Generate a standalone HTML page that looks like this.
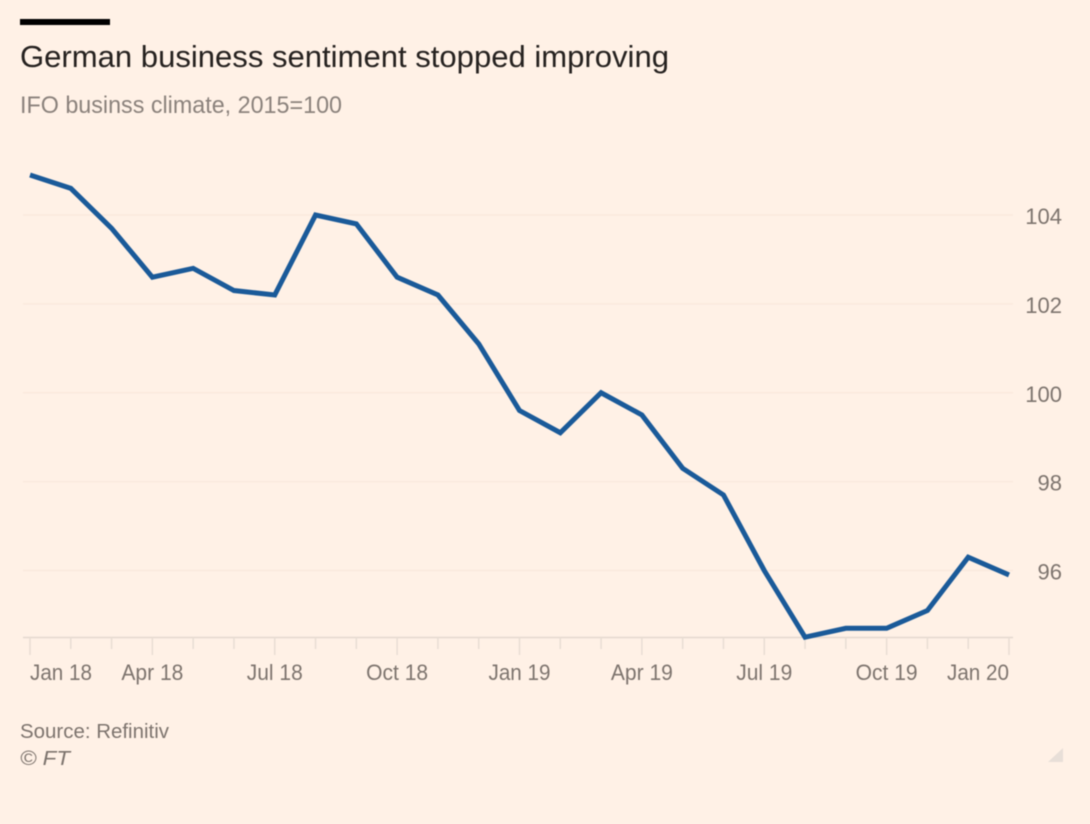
<!DOCTYPE html>
<html lang="en">
<head>
<meta charset="utf-8">
<title>German business sentiment stopped improving</title>
<style>
html,body{margin:0;padding:0;background:#fff1e6;width:1090px;height:824px;overflow:hidden}
svg{display:block;font-family:"Liberation Sans",sans-serif;filter:blur(0.4px)}
</style>
</head>
<body>
<svg id="chart" width="1090" height="824" viewBox="0 0 1090 824" xmlns="http://www.w3.org/2000/svg">
  <rect x="0" y="0" width="1090" height="824" fill="#fff1e6"/>
  <rect x="20" y="19" width="90" height="6" fill="#000"/>
  <text x="20" y="67" font-size="31" fill="#262220" textLength="649" lengthAdjust="spacingAndGlyphs">German business sentiment stopped improving</text>
  <text x="20" y="113" font-size="24" fill="#8b827c" textLength="322" lengthAdjust="spacingAndGlyphs">IFO businss climate, 2015=100</text>
  <g id="grid"></g>
  <g id="yticks"></g>
  <g id="xaxis"></g>
  <path id="line" fill="none" stroke="#1a5a99" stroke-width="5" stroke-linejoin="miter" stroke-linecap="butt"></path>
  <text x="20" y="738" font-size="20" fill="#7d746e" textLength="149" lengthAdjust="spacingAndGlyphs">Source: Refinitiv</text>
  <text x="20" y="765" font-size="20" font-style="italic" fill="#7d746e" textLength="50" lengthAdjust="spacingAndGlyphs">© FT</text>
  <polygon points="1063,748 1063,762 1048,762" fill="#e8dfd8"/>
</svg>
<script>
var months = ["Jan 18","Feb 18","Mar 18","Apr 18","May 18","Jun 18","Jul 18","Aug 18","Sep 18","Oct 18","Nov 18","Dec 18","Jan 19","Feb 19","Mar 19","Apr 19","May 19","Jun 19","Jul 19","Aug 19","Sep 19","Oct 19","Nov 19","Dec 19","Jan 20"];
var ifoValues = [104.9,104.6,103.7,102.6,102.8,102.3,102.2,104.0,103.8,102.6,102.2,101.1,99.6,99.1,100.0,99.5,98.3,97.7,96.0,94.5,94.7,94.7,95.1,96.3,95.9];
var yTickValues = [104,102,100,98,96];
var xTickLabels = ["Jan 18","Apr 18","Jul 18","Oct 18","Jan 19","Apr 19","Jul 19","Oct 19","Jan 20"];

var NS = "http://www.w3.org/2000/svg";
function xScale(i){ return 30 + i * (1009 - 30) / 24; }
function yScale(v){ return 215 + (104 - v) * (570.5 - 215) / 8; }
function make(tag, attrs, parent, content){
  var el = document.createElementNS(NS, tag);
  for (var k in attrs) el.setAttribute(k, attrs[k]);
  if (content !== undefined) el.textContent = content;
  parent.appendChild(el);
  return el;
}
var grid = document.getElementById("grid");
var yG = document.getElementById("yticks");
var xG = document.getElementById("xaxis");

yTickValues.forEach(function(v){
  var y = yScale(v);
  var g = make("line", {x1:23, x2:1013, y1:y, y2:y, stroke:"#fae9dd", "stroke-width":1.5}, grid);
  
  
  var t = make("text", {x:1062, y:y + 9, "text-anchor":"end", "font-size":22, fill:"#7d746e"}, yG, String(v));
  
  
});

var axisY = 637.5;
var base = make("line", {x1:23, x2:1013, y1:axisY, y2:axisY, stroke:"#e4d8cf", "stroke-width":1.5}, xG);



months.forEach(function(m, i){
  var x = xScale(i);
  var major = xTickLabels.indexOf(m) >= 0;
  var tick = make("line", {x1:x, x2:x, y1:axisY, y2:major ? 655 : 649, stroke:"#e8ddd4", "stroke-width":1.5}, xG);
  
  
  if (major) {
    var anchor = i === 0 ? "start" : (i === months.length - 1 ? "end" : "middle");
    var labelWidth = m.indexOf("Jul") === 0 ? 56 : 62;
    var label = make("text", {x:x, y:680, "text-anchor":anchor, "font-size":22, fill:"#7d746e", textLength:labelWidth, lengthAdjust:"spacingAndGlyphs"}, xG, m);
    
    
  }
});

var d = ifoValues.map(function(v, i){
  return (i ? "L" : "M") + xScale(i).toFixed(2) + " " + yScale(v).toFixed(2);
}).join(" ");
document.getElementById("line").setAttribute("d", d);
</script>
</body>
</html>
